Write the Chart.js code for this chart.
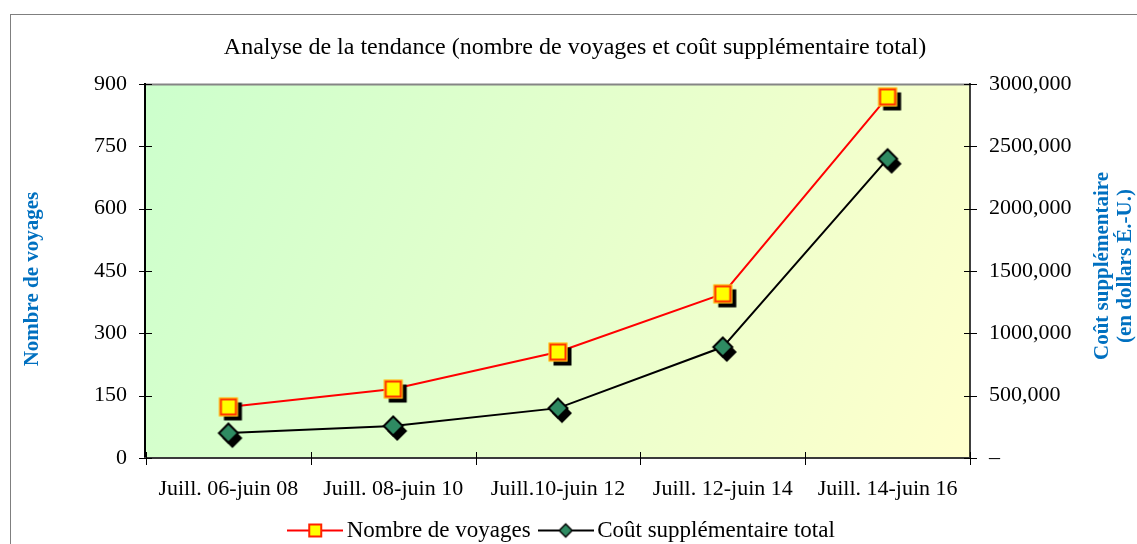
<!DOCTYPE html>
<html><head><meta charset="utf-8">
<script src="https://cdn.jsdelivr.net/npm/chart.js@4/dist/chart.umd.min.js"></script>
<style>
html,body{margin:0;padding:0;background:#fff;overflow:hidden;width:1137px;height:544px}
#frame{position:absolute;left:10px;top:14px;width:1200px;height:600px;border:1px solid #7f7f7f;}
#wrap{position:absolute;left:0;top:0;width:1137px;height:544px}
</style></head><body>
<div id="frame"></div>
<div id="wrap"><canvas id="c" width="1137" height="544"></canvas></div>
<script>
const titleText = 'Analyse de la tendance (nombre de voyages et coût supplémentaire total)';
const categories = ['Juill. 06-juin 08', 'Juill. 08-juin 10', 'Juill.10-juin 12', 'Juill. 12-juin 14', 'Juill. 14-juin 16'];
const voyages = [123, 166, 255, 395, 869];
const coutTotal = [200000, 257000, 400000, 890000, 2400000];
const leftTicks = [0, 150, 300, 450, 600, 750, 900];
const rightTickValues = [0, 500000, 1000000, 1500000, 2000000, 2500000, 3000000];
const rightTickLabels = ['–', '500,000', '1000,000', '1500,000', '2000,000', '2500,000', '3000,000'];
const seriesNames = ['Nombre de voyages', 'Coût supplémentaire total'];
const leftAxisTitle = 'Nombre de voyages';
const rightAxisTitle = ['Coût supplémentaire', '(en dollars É.-U.)'];

const SERIF = '"Liberation Serif", "DejaVu Serif", serif';
const BLUE = '#0070c0';

function mk(w, h, fn) { const c = document.createElement('canvas'); c.width = w; c.height = h; fn(c.getContext('2d')); return c; }
// marker images (style only)
const squareImg = mk(32, 32, g => {
  const s = 19, o = (32 - s) / 2;
  g.fillStyle = '#000'; g.fillRect(o + 5, o + 5, s - 1, s - 1);
  g.fillStyle = '#ffff00'; g.fillRect(o, o, s, s);
  g.strokeStyle = 'rgba(255,120,60,0.6)'; g.lineWidth = 1; g.strokeRect(o + 0.5, o + 0.5, s - 1, s - 1);
  g.strokeStyle = '#ff3300'; g.lineWidth = 2; g.strokeRect(o + 2, o + 2, s - 4, s - 4);
});
function diamond(g, cx, cy, r) { g.beginPath(); g.moveTo(cx, cy - r); g.lineTo(cx + r, cy); g.lineTo(cx, cy + r); g.lineTo(cx - r, cy); g.closePath(); }
const diamondImg = mk(34, 34, g => {
  g.fillStyle = '#000'; diamond(g, 17 + 4, 17 + 5, 10); g.fill();
  diamond(g, 17, 17, 9.5); g.fillStyle = '#2e8b62'; g.fill(); g.strokeStyle = '#000'; g.lineWidth = 2; g.stroke();
});
const legSquare = mk(56, 20, g => {
  g.strokeStyle = '#ff0000'; g.lineWidth = 2; g.beginPath(); g.moveTo(0, 10); g.lineTo(56, 10); g.stroke();
  g.fillStyle = '#ffff00'; g.fillRect(21, 3, 14, 14); g.strokeStyle = '#ff2200'; g.lineWidth = 2; g.strokeRect(22, 4, 12, 12);
});
const legDiamond = mk(56, 20, g => {
  g.strokeStyle = '#000'; g.lineWidth = 2; g.beginPath(); g.moveTo(0, 10); g.lineTo(56, 10); g.stroke();
  diamond(g, 28, 10, 6.5); g.fillStyle = '#2e8b62'; g.fill(); g.strokeStyle = '#000'; g.lineWidth = 1.5; g.stroke();
});

const deco = {
  id: 'deco',
  afterLayout(chart) {
    if (chart.legend) { chart.legend.left -= 10; chart.legend.right -= 10; }
  },
  beforeDraw(chart) {
    const {ctx, chartArea: a} = chart;
    const gr = ctx.createLinearGradient(a.left, a.top, a.right, a.bottom);
    gr.addColorStop(0, '#ccffcc');
    gr.addColorStop(1, '#ffffcc');
    ctx.save(); ctx.fillStyle = gr; ctx.fillRect(a.left, a.top, a.right - a.left, a.bottom - a.top); ctx.restore();
  },
  beforeDatasetsDraw(chart) {
    const {ctx, chartArea: a, scales} = chart;
    ctx.save();
    ctx.lineWidth = 2;
    ctx.strokeStyle = '#858585';
    ctx.beginPath(); ctx.moveTo(a.left, a.top + 0.5); ctx.lineTo(a.right, a.top + 0.5); ctx.stroke();
    ctx.strokeStyle = '#000';
    ctx.beginPath(); ctx.moveTo(a.left - 1, a.top - 1); ctx.lineTo(a.left - 1, a.bottom + 1); ctx.stroke();
    ctx.lineWidth = 1.5;
    ctx.beginPath(); ctx.moveTo(a.right, a.top - 1); ctx.lineTo(a.right, a.bottom + 1); ctx.stroke();
    ctx.lineWidth = 2; ctx.strokeStyle = '#3a3a3a';
    ctx.beginPath(); ctx.moveTo(a.left - 2, a.bottom); ctx.lineTo(a.right + 1, a.bottom); ctx.stroke();
    ctx.lineWidth = 1; ctx.strokeStyle = '#000';
    ctx.beginPath();
    scales.y.ticks.forEach(t => { const y = Math.round(scales.y.getPixelForValue(t.value)) + 0.5; ctx.moveTo(a.left - 7, y); ctx.lineTo(a.left + 6, y); });
    scales.y1.ticks.forEach(t => { const y = Math.round(scales.y1.getPixelForValue(t.value)) + 0.5; ctx.moveTo(a.right - 6, y); ctx.lineTo(a.right + 7, y); });
    for (let i = 0; i <= categories.length; i++) { const x = Math.round(scales.x.getPixelForValue(i - 0.5)) + 0.5; ctx.moveTo(x, a.bottom - 6); ctx.lineTo(x, a.bottom + 7); }
    ctx.stroke();
    ctx.restore();
  },
  afterDraw(chart) {
    const {ctx} = chart;
    ctx.save();
    ctx.fillStyle = BLUE; ctx.font = 'bold 21px ' + SERIF; ctx.textAlign = 'center'; ctx.textBaseline = 'middle';
    ctx.translate(33, 279); ctx.rotate(-Math.PI / 2); ctx.fillText(leftAxisTitle, 0, 0);
    ctx.restore();
    ctx.save();
    ctx.fillStyle = BLUE; ctx.font = 'bold 21px ' + SERIF; ctx.textAlign = 'center'; ctx.textBaseline = 'middle';
    ctx.translate(1103, 266); ctx.rotate(-Math.PI / 2);
    ctx.fillText(rightAxisTitle[0], 0, 0);
    ctx.fillText(rightAxisTitle[1], 0, 23);
    ctx.restore();
  }
};

const tickFont = {family: SERIF, size: 22};
new Chart(document.getElementById('c'), {
  type: 'line',
  data: {
    labels: categories,
    datasets: [
      {label: seriesNames[0], data: voyages, yAxisID: 'y', borderColor: '#ff0000', borderWidth: 2, pointStyle: squareImg, pointRadius: 10, tension: 0, fill: false},
      {label: seriesNames[1], data: coutTotal, yAxisID: 'y1', borderColor: '#000000', borderWidth: 2, pointStyle: diamondImg, pointRadius: 10, tension: 0, fill: false}
    ]
  },
  options: {
    responsive: false, animation: false, devicePixelRatio: 1,
    layout: {padding: {left: 0, right: -13, top: 0, bottom: -8}},
    plugins: {
      title: {display: true, text: titleText, color: '#000', font: {family: SERIF, size: 24, weight: 'normal'}, padding: {top: 33.6, bottom: 21.6}},
      legend: {
        position: 'bottom',
        labels: {
          usePointStyle: true, pointStyleWidth: 40, padding: 15, color: '#000', font: {family: SERIF, size: 23},
          generateLabels: () => [
            {text: seriesNames[0], pointStyle: legSquare, fillStyle: '#ffff00', strokeStyle: '#ff0000', lineWidth: 0, hidden: false, datasetIndex: 0, fontColor: '#000'},
            {text: seriesNames[1], pointStyle: legDiamond, fillStyle: '#2e8b62', strokeStyle: '#000', lineWidth: 0, hidden: false, datasetIndex: 1, fontColor: '#000'}
          ]
        }
      },
      tooltip: {enabled: false}
    },
    scales: {
      x: {
        offset: true,
        grid: {display: false, drawTicks: false, tickLength: 0},
        border: {display: false},
        ticks: {color: '#000', font: tickFont, padding: 18, maxRotation: 0, autoSkip: false},
        afterFit: s => { s.height = 46; }
      },
      y: {
        position: 'left', min: 0, max: 900,
        grid: {display: false, drawTicks: false, tickLength: 0},
        border: {display: false},
        afterBuildTicks: s => { s.ticks = leftTicks.map(v => ({value: v})); },
        ticks: {color: '#000', font: tickFont, padding: 19},
        afterFit: s => { s.width = 146; }
      },
      y1: {
        position: 'right', min: 0, max: 3000000,
        grid: {display: false, drawTicks: false, tickLength: 0},
        border: {display: false},
        afterBuildTicks: s => { s.ticks = rightTickValues.map(v => ({value: v})); },
        ticks: {color: '#000', font: tickFont, padding: 19, callback: v => rightTickLabels[rightTickValues.indexOf(v)]},
        afterFit: s => { s.width = 180; }
      }
    }
  },
  plugins: [deco]
});
</script>
</body></html>
